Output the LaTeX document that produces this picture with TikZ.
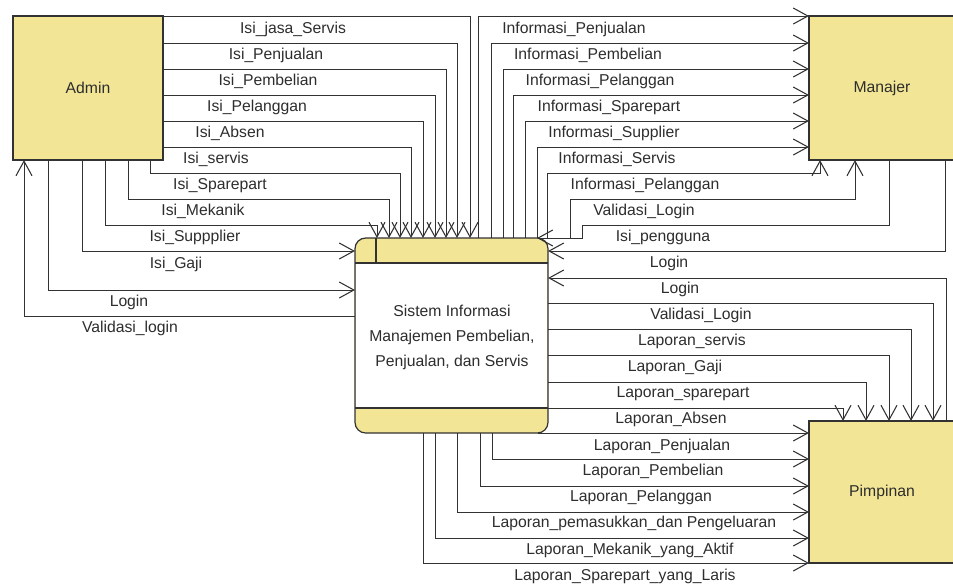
\documentclass[tikz,border=0pt]{standalone}
\usepackage{fontspec}
\setmainfont{Liberation Sans}
\usetikzlibrary{arrows.meta}
\definecolor{boxyellow}{RGB}{242,230,150}
\definecolor{linegray}{RGB}{50,50,50}
\definecolor{txtgray}{RGB}{45,45,45}
\begin{document}
\begin{tikzpicture}[x=0.75pt,y=-0.75pt,
  flow/.style={draw=linegray, line width=0.75pt, -{Straight Barb[length=11pt,width=12pt,line width=0.8pt]}},
  ent/.style={draw=linegray, line width=0.9pt, fill=boxyellow, inner sep=0pt, outer sep=0pt,
              font=\fontsize{11.8}{14}\selectfont, text=txtgray},
  lbl/.style={inner sep=0pt, text height=8pt, text depth=3pt, font=\fontsize{11.8}{14}\selectfont, text=txtgray},
  ptext/.style={inner sep=0pt, align=center, font=\fontsize{11.8}{18.75}\selectfont, text=txtgray}]
\useasboundingbox (0,0) rectangle (953,587);

% entities
\node[ent, minimum width=112.5pt, minimum height=108pt] (admin) at (88,88) {Admin};
\node[ent, minimum width=109.5pt, minimum height=108pt] (manajer) at (882,88) {Manajer};
\node[ent, minimum width=109.5pt, minimum height=106.5pt] (pimpinan) at (882,492) {Pimpinan};

% process
\node[draw=linegray, line width=0.9pt, fill=boxyellow, rounded corners=8pt, inner sep=0pt, outer sep=0pt,
      minimum width=144.75pt, minimum height=146.25pt] (proc) at (451.5,335.5) {};
\fill[white] ([xshift=0.5pt]proc.west |- 0,263) rectangle ([xshift=-0.5pt]proc.east |- 0,408);
\draw[linegray, line width=0.9pt] (proc.west |- 0,263) -- (proc.east |- 0,263);
\draw[linegray, line width=0.9pt] (proc.west |- 0,408) -- (proc.east |- 0,408);
\draw[linegray, line width=0.9pt] (376,0 |- proc.north) -- (376,263);
\node[ptext] (ptxt) at (452,337) {Sistem Informasi\\Manajemen Pembelian,\\Penjualan, dan Servis};

% Admin -> process
\draw[flow] (admin.north east) -| (470,0 |- proc.north);
\draw[flow] (admin.east |- 0,43) -| (457,0 |- proc.north);
\draw[flow] (admin.east |- 0,69) -| (446,0 |- proc.north);
\draw[flow] (admin.east |- 0,95) -| (435,0 |- proc.north);
\draw[flow] (admin.east |- 0,121) -| (423,0 |- proc.north);
\draw[flow] (admin.east |- 0,147) -| (411,0 |- proc.north);
\draw[flow] (admin.south -| 150,0) |- (400,173) -- (400,0 |- proc.north);
\draw[flow] (admin.south -| 128,0) |- (389,199) -- (389,0 |- proc.north);
\draw[flow] (admin.south -| 105,0) |- (377,225) -- (377,0 |- proc.north);
\draw[flow] (admin.south -| 82,0) |- (proc.west |- 0,251);
\draw[flow] (admin.south -| 48,0) |- (proc.west |- 0,290);
\draw[flow] (proc.west |- 0,316) -| (admin.south -| 24,0);

% process <-> Manajer
\draw[flow] (478,0 |- proc.north) |- (manajer.north west);
\draw[flow] (491,0 |- proc.north) |- (manajer.west |- 0,43);
\draw[flow] (503,0 |- proc.north) |- (manajer.west |- 0,69);
\draw[flow] (513,0 |- proc.north) |- (manajer.west |- 0,95);
\draw[flow] (525,0 |- proc.north) |- (manajer.west |- 0,121);
\draw[flow] (537,0 |- proc.north) |- (manajer.west |- 0,147);
\draw[flow] (547,0 |- proc.north) |- (820,173) -- (manajer.south -| 820,0);
\draw[flow] (570,0 |- proc.north) |- (855,199) -- (manajer.south -| 855,0);
\draw[flow] (manajer.south -| 889,0) |- (582,225) -- (582,238) -- (537,0 |- proc.north);
\draw[flow] (manajer.south -| 945,0) |- (proc.east |- 0,251);

% process <-> Pimpinan
\draw[flow] (pimpinan.north -| 946,0) |- (proc.east |- 0,278);
\draw[flow] (proc.east |- 0,303) -| (pimpinan.north -| 933,0);
\draw[flow] (proc.east |- 0,329) -| (pimpinan.north -| 911,0);
\draw[flow] (proc.east |- 0,355) -| (pimpinan.north -| 889,0);
\draw[flow] (proc.east |- 0,382) -| (pimpinan.north -| 866,0);
\draw[flow] (proc.east |- 0,408) -| (pimpinan.north -| 843,0);
\draw[flow] (538,0 |- proc.south) -- (pimpinan.west |- 0,433);
\draw[flow] (492,0 |- proc.south) |- (pimpinan.west |- 0,459);
\draw[flow] (480,0 |- proc.south) |- (pimpinan.west |- 0,486);
\draw[flow] (457,0 |- proc.south) |- (pimpinan.west |- 0,512);
\draw[flow] (435,0 |- proc.south) |- (pimpinan.west |- 0,538);
\draw[flow] (423,0 |- proc.south) |- (pimpinan.south west);

% labels
\node[lbl] (l1) at (293,30) {Isi\_jasa\_Servis};
\node[lbl] (l2) at (276,56) {Isi\_Penjualan};
\node[lbl] (l3) at (268,82) {Isi\_Pembelian};
\node[lbl] (l4) at (257,108) {Isi\_Pelanggan};
\node[lbl] (l5) at (230,134) {Isi\_Absen};
\node[lbl] (l6) at (216,160) {Isi\_servis};
\node[lbl] (l7) at (220,186) {Isi\_Sparepart};
\node[lbl] (l8) at (203,212) {Isi\_Mekanik};
\node[lbl] (l9) at (195,238) {Isi\_Suppplier};
\node[lbl] (l10) at (176,265) {Isi\_Gaji};
\node[lbl] (l11) at (129,303) {Login};
\node[lbl] (l12) at (130,329) {Validasi\_login};
\node[lbl] (l13) at (574,30) {Informasi\_Penjualan};
\node[lbl] (l14) at (588,56) {Informasi\_Pembelian};
\node[lbl] (l15) at (600,82) {Informasi\_Pelanggan};
\node[lbl] (l16) at (609,108) {Informasi\_Sparepart};
\node[lbl] (l17) at (614,134) {Informasi\_Supplier};
\node[lbl] (l18) at (617,160) {Informasi\_Servis};
\node[lbl] (l19) at (645,186) {Informasi\_Pelanggan};
\node[lbl] (l20) at (644,212) {Validasi\_Login};
\node[lbl] (l21) at (663,238) {Isi\_pengguna};
\node[lbl] (l22) at (669,264) {Login};
\node[lbl] (l23) at (680,290) {Login};
\node[lbl] (l24) at (701,316) {Validasi\_Login};
\node[lbl] (l25) at (692,342) {Laporan\_servis};
\node[lbl] (l26) at (675,368) {Laporan\_Gaji};
\node[lbl] (l27) at (683,394) {Laporan\_sparepart};
\node[lbl] (l28) at (671,420) {Laporan\_Absen};
\node[lbl] (l29) at (662,447) {Laporan\_Penjualan};
\node[lbl] (l30) at (653,472) {Laporan\_Pembelian};
\node[lbl] (l31) at (641,498) {Laporan\_Pelanggan};
\node[lbl] (l32) at (634,524) {Laporan\_pemasukkan\_dan Pengeluaran};
\node[lbl] (l33) at (630,551) {Laporan\_Mekanik\_yang\_Aktif};
\node[lbl] (l34) at (625,577) {Laporan\_Sparepart\_yang\_Laris};
\end{tikzpicture}
\end{document}
